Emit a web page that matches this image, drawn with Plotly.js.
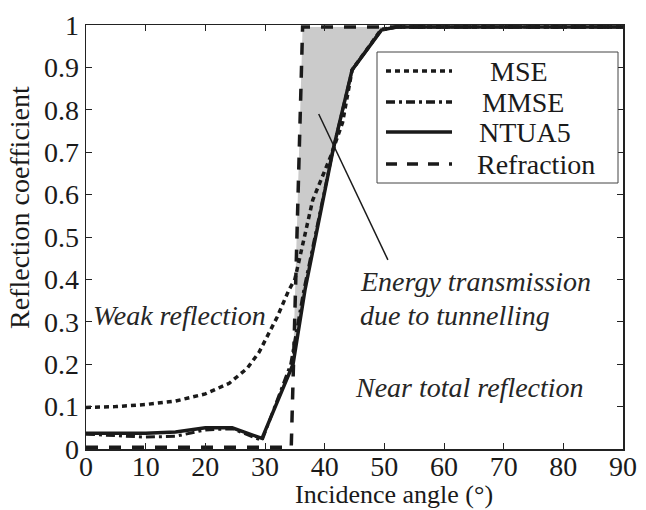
<!DOCTYPE html>
<html>
<head>
<meta charset="utf-8">
<script src="https://cdn.plot.ly/plotly-3.0.1.min.js"></script>
<style>html,body{margin:0;padding:0;background:#fff;}#chart{width:646px;height:510px;}</style>
</head>
<body>
<div id="chart"></div>
<script>
// ---- data ----
const seriesNames = ["MSE", "MMSE", "NTUA5", "Refraction"];

const mseAngle = [0, 5, 10, 15, 20, 24, 27, 29, 32, 34, 35, 38, 41, 43, 44.6, 49.5, 52, 90];
const mseCoef  = [0.098, 0.100, 0.105, 0.113, 0.130, 0.155, 0.19, 0.228, 0.31, 0.375, 0.40, 0.587, 0.69, 0.77, 0.894, 0.99, 0.995, 0.995];

const mmseAngle = [0, 5, 10, 15, 20, 24.5, 29.5, 34.3, 36.5, 41.4, 44.6, 49.5, 52, 90];
const mmseCoef  = [0.035, 0.031, 0.028, 0.030, 0.045, 0.048, 0.020, 0.20, 0.375, 0.705, 0.894, 0.988, 0.995, 0.995];

const ntuaAngle = [0, 10, 15, 20, 24.5, 29.5, 34.7, 36.7, 41.4, 44.6, 49.5, 52, 90];
const ntuaCoef  = [0.037, 0.037, 0.040, 0.050, 0.050, 0.025, 0.20, 0.375, 0.705, 0.894, 0.988, 0.995, 0.995];

const refrAngle = [0, 34.4, 36.3, 90];
const refrCoef  = [0.004, 0.004, 0.995, 0.995];

const xTicks = [0, 10, 20, 30, 40, 50, 60, 70, 80, 90];
const yTicks = [0, 0.1, 0.2, 0.3, 0.4, 0.5, 0.6, 0.7, 0.8, 0.9, 1];
const yTickText = ["0", "0.1", "0.2", "0.3", "0.4", "0.5", "0.6", "0.7", "0.8", "0.9", "1"];

// shaded tunnelling region: NTUA5 curve from its crossing with the refraction line up to the top, closed along the refraction line
const shadeX = [], shadeY = [];
for (let i = 0; i < ntuaAngle.length; i++) {
  if (ntuaAngle[i] >= 34.7 && ntuaAngle[i] <= 52) { shadeX.push(ntuaAngle[i]); shadeY.push(ntuaCoef[i]); }
}
shadeX.push(refrAngle[2]); shadeY.push(refrCoef[2]);

// ---- styling ----
const FONT = "'Liberation Serif', 'Times New Roman', serif";
const INK = "#1a1a1a";
const L = 86, R = 623, T = 25, B = 449;
const PX = x => (x - L) / (R - L);
const PY = y => (B - y) / (B - T);

const traces = [
  {x: shadeX, y: shadeY, mode: "lines", fill: "toself", fillcolor: "#cbcbcb", line: {width: 0}, hoverinfo: "skip", showlegend: false},
  {x: refrAngle, y: refrCoef, name: seriesNames[3], mode: "lines", line: {color: INK, width: 3.5, dash: "12px,11px"}},
  {x: mmseAngle, y: mmseCoef, name: seriesNames[1], mode: "lines", line: {color: INK, width: 3, dash: "9px,4px,3px,4px"}},
  {x: mseAngle, y: mseCoef, name: seriesNames[0], mode: "lines", line: {color: INK, width: 3.5, dash: "5px,4px"}},
  {x: ntuaAngle, y: ntuaCoef, name: seriesNames[2], mode: "lines", line: {color: INK, width: 3.5}}
];

// custom legend (box, samples, labels)
const legRows = [71, 102, 132, 164];
const legDash = ["5px,4px", "9px,4px,3px,4px", "solid", "11px,10px"];
const legTextLeft = [488, 480, 477, 475];
const shapes = [
  {type: "rect", xref: "paper", yref: "paper", x0: PX(377), x1: PX(618), y0: PY(183), y1: PY(52), line: {color: "#444", width: 1}, fillcolor: "#fff", layer: "above"},
  {type: "line", xref: "x", yref: "y", x0: 39.0, y0: 0.79, x1: 50.6, y1: 0.446, line: {color: INK, width: 1.5}}
];
const annotations = [];
for (let i = 0; i < 4; i++) {
  shapes.push({type: "line", xref: "paper", yref: "paper", x0: PX(386), x1: PX(452), y0: PY(legRows[i]), y1: PY(legRows[i]),
               line: {color: INK, width: 3.5, dash: legDash[i]}, layer: "above"});
  annotations.push({xref: "paper", yref: "paper", x: PX(legTextLeft[i]), y: PY(legRows[i]), xanchor: "left", yanchor: "middle",
                    text: seriesNames[i], showarrow: false, font: {family: FONT, size: 28, color: INK}});
}
// in-plot notes
const noteFont = {family: FONT, size: 28, color: "#262626", style: "italic"};
annotations.push({x: 15.75, y: 0.316, text: "Weak reflection", showarrow: false, font: noteFont, xanchor: "center", yanchor: "middle"});
annotations.push({x: 45.6, y: 0.394, text: "Energy transmission", showarrow: false, font: noteFont, xanchor: "left", yanchor: "middle"});
annotations.push({x: 45.6, y: 0.316, text: "due to tunnelling", showarrow: false, font: noteFont, xanchor: "left", yanchor: "middle"});
annotations.push({x: 64.35, y: 0.146, text: "Near total reflection", showarrow: false, font: noteFont, xanchor: "center", yanchor: "middle"});
// axis titles
annotations.push({xref: "paper", yref: "paper", x: PX(394), y: PY(494), text: "Incidence angle (°)", showarrow: false,
                  font: {family: FONT, size: 26, color: INK}, xanchor: "center", yanchor: "middle"});
annotations.push({xref: "paper", yref: "paper", x: PX(19), y: PY(208), text: "Reflection coefficient", showarrow: false, textangle: -90,
                  font: {family: FONT, size: 28, color: INK}, xanchor: "center", yanchor: "middle"});

const axisCommon = {showline: true, linecolor: "#222", linewidth: 1.5, mirror: "ticks", ticks: "inside", ticklen: 6, tickwidth: 1,
                    tickcolor: "#222", showgrid: false, zeroline: false, tickfont: {family: FONT, size: 28, color: INK}};

const layout = {
  width: 646, height: 510,
  margin: {l: L, r: 646 - R, t: T, b: 510 - B},
  paper_bgcolor: "#fff", plot_bgcolor: "#fff",
  showlegend: false,
  xaxis: Object.assign({}, axisCommon, {range: [0, 90], tickvals: xTicks, ticktext: xTicks.map(String), ticklabelstandoff: -8}),
  yaxis: Object.assign({}, axisCommon, {range: [0, 1], tickvals: yTicks, ticktext: yTickText, ticklabelstandoff: 0}),
  shapes: shapes,
  annotations: annotations
};

Plotly.newPlot("chart", traces, layout, {displayModeBar: false, staticPlot: true});
</script>
</body>
</html>
